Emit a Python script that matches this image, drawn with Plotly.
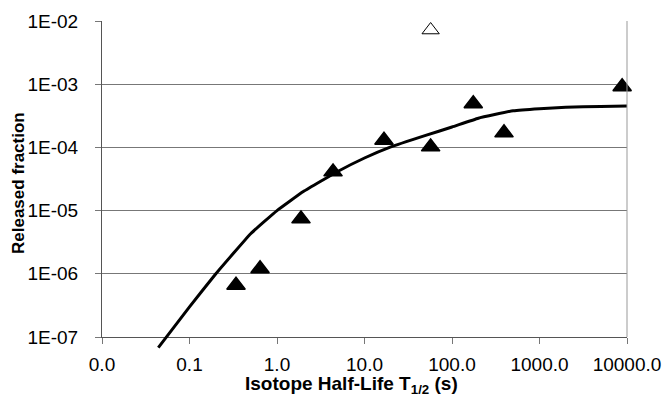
import plotly.graph_objects as go

# measured data (filled triangles)
half_life = [0.34, 0.64, 1.88, 4.37, 16.7, 57, 175, 393, 8800]
released = [6.6e-7, 1.2e-6, 7.4e-6, 4.1e-5, 1.3e-4, 1.02e-4, 4.9e-4, 1.7e-4, 9.1e-4]

# outlier (open triangle)
outlier_x = [57]
outlier_y = [7.2e-3]

# model curve
curve_x = [0.044, 0.1, 0.2, 0.5, 1, 2, 5, 10, 20, 50, 100, 200, 500, 1000, 2000, 5000, 10000]
curve_y = [6.8e-8, 3.0e-7, 1.0e-6, 4.3e-6, 1.0e-5, 2.0e-5, 4.2e-5, 6.8e-5, 1.02e-4,
           1.55e-4, 2.1e-4, 2.9e-4, 3.8e-4, 4.1e-4, 4.3e-4, 4.45e-4, 4.5e-4]

x_tickvals = [0.01, 0.1, 1, 10, 100, 1000, 10000]
x_ticktext = ["0.0", "0.1", "1.0", "10.0", "100.0", "1000.0", "10000.0"]
y_tickvals = [1e-7, 1e-6, 1e-5, 1e-4, 1e-3, 1e-2]
y_ticktext = ["1E-07", "1E-06", "1E-05", "1E-04", "1E-03", "1E-02"]

W, H = 664, 399
L, R = 102, 37
T, B = 21, 50
ext_px = 12
plot_w = W - L - R
plot_h = H - T - B
main_h = plot_h - ext_px
dec_px = main_h / 5.0
y_bottom_frac = ext_px / plot_h
ext_dec = ext_px / dec_px

fig = go.Figure()

fig.add_trace(go.Scatter(
    x=curve_x, y=curve_y, mode="lines",
    line=dict(color="black", width=3, shape="spline", smoothing=0.3),
    xaxis="x2", yaxis="y2", showlegend=False, hoverinfo="skip"))

fig.add_trace(go.Scatter(
    x=half_life, y=released, mode="markers",
    marker=dict(symbol="triangle-up", size=16, color="black",
                line=dict(color="black", width=1.5)),
    showlegend=False, cliponaxis=False))

fig.add_trace(go.Scatter(
    x=outlier_x, y=outlier_y, mode="markers",
    marker=dict(symbol="triangle-up", size=15, color="white",
                line=dict(color="black", width=1)),
    showlegend=False, cliponaxis=False))

font = "Liberation Sans, Arial, sans-serif"

fig.update_layout(
    width=W, height=H,
    margin=dict(l=L, r=R, t=T, b=B, autoexpand=False),
    paper_bgcolor="white", plot_bgcolor="rgba(0,0,0,0)",
    font=dict(family=font, color="black", size=19),
    xaxis=dict(
        type="log", range=[-2, 4], domain=[0, 1], anchor="y",
        automargin=False,
        tickvals=x_tickvals, ticktext=x_ticktext,
        ticks="outside", ticklen=6, tickcolor="#777", tickwidth=1,
        ticklabelstandoff=4,
        showline=True, linecolor="#555", linewidth=1,
        showgrid=False, zeroline=False,
        tickfont=dict(size=19, family=font),
    ),
    yaxis=dict(
        type="log", range=[-7, -2], domain=[y_bottom_frac, 1], anchor="x",
        automargin=False,
        tickvals=y_tickvals, ticktext=y_ticktext,
        ticks="outside", ticklen=6, tickcolor="#777", tickwidth=1,
        ticklabelstandoff=13,
        showline=True, linecolor="#555", linewidth=1,
        showgrid=True, gridcolor="#777", gridwidth=1,
        zeroline=False,
        tickfont=dict(size=19, family=font),
    ),
    xaxis2=dict(type="log", range=[-2, 4], domain=[0, 1], anchor="y2",
                visible=False, showgrid=False, automargin=False),
    yaxis2=dict(type="log", range=[-7 - ext_dec, -2], domain=[0, 1], anchor="x2",
                visible=False, showgrid=False, automargin=False),
    shapes=[dict(type="line", xref="x domain", yref="y domain",
                 x0=1, x1=1, y0=0, y1=1,
                 line=dict(color="#999", width=1))],
    annotations=[
        dict(text="<b>Isotope Half-Life T<sub>1/2</sub> (s)</b>",
             xref="paper", yref="paper",
             x=(351 - L) / plot_w, y=(H - B - 385) / plot_h,
             xanchor="center", yanchor="middle", showarrow=False,
             font=dict(size=19, family=font)),
        dict(text="<b>Released fraction</b>", textangle=-90,
             xref="paper", yref="paper",
             x=(18 - L) / plot_w, y=(H - B - 183) / plot_h,
             xanchor="center", yanchor="middle", showarrow=False,
             font=dict(size=17, family=font)),
    ],
)

fig.write_html(
    "out.html",
    config={"displayModeBar": False},
    post_script="document.body.style.margin='0';document.body.style.overflow='hidden';",
)
